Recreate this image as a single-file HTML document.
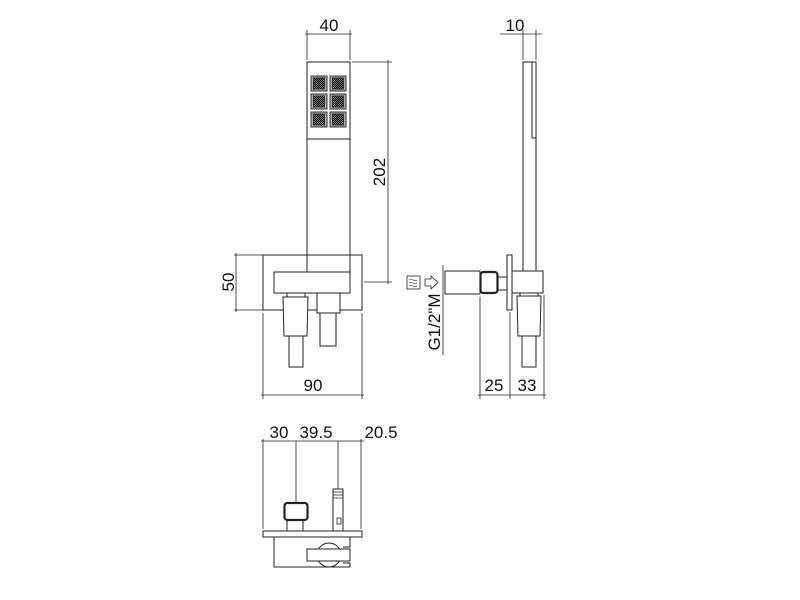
<!DOCTYPE html>
<html><head><meta charset="utf-8"><style>html,body{margin:0;padding:0;background:#fff}svg{display:block}</style></head>
<body>
<svg width="800" height="600" viewBox="0 0 800 600" xmlns="http://www.w3.org/2000/svg" font-family="Liberation Sans, sans-serif" font-size="17" fill="none" stroke="#222" stroke-width="1">
<defs>
<pattern id="dots" width="2" height="2" patternUnits="userSpaceOnUse"><rect width="2" height="2" fill="#777" stroke="none"/><rect width="1" height="1" fill="#000" stroke="none"/><rect x="1" y="1" width="1" height="1" fill="#000" stroke="none"/></pattern>
</defs>
<!-- FRONT VIEW -->
<rect x="307" y="62" width="43" height="210"/>
<line x1="307" y1="139" x2="350" y2="139"/>
<g stroke="#333">
<g id="t"><rect x="311" y="76" width="16" height="15" fill="#aaa"/><rect x="313.5" y="78" width="11" height="11" fill="url(#dots)"/></g>
<use href="#t" x="19"/><use href="#t" y="18"/><use href="#t" x="19" y="18"/><use href="#t" y="36"/><use href="#t" x="19" y="36"/>
</g>
<rect x="263" y="255" width="99" height="55"/>
<rect x="274" y="272" width="76" height="21" fill="#fff"/>
<rect x="287" y="293" width="18" height="4" fill="#fff"/>
<polygon points="283,297 308,297 307,336 284,336" fill="#fff"/>
<rect x="289" y="336" width="14" height="31" fill="#fff"/>
<rect x="317" y="293" width="23" height="20" fill="#fff"/>
<rect x="320" y="313" width="16" height="33" fill="#fff"/>
<g stroke-width="0.8">
<line x1="307" y1="60" x2="307" y2="30"/><line x1="350" y1="60" x2="350" y2="30"/><line x1="305" y1="34" x2="352" y2="34"/>
<line x1="352" y1="62" x2="392" y2="62"/><line x1="364" y1="282" x2="392" y2="282"/><line x1="388" y1="60" x2="388" y2="284"/>
<line x1="234" y1="255" x2="263" y2="255"/><line x1="234" y1="310" x2="263" y2="310"/><line x1="236" y1="253" x2="236" y2="312"/>
<line x1="263" y1="313" x2="263" y2="399"/><line x1="362" y1="313" x2="362" y2="399"/><line x1="261" y1="395" x2="364" y2="395"/>
</g>
<g fill="#111" stroke="none">
<text x="329" y="31" text-anchor="middle">40</text>
<text transform="translate(385,172) rotate(-90)" text-anchor="middle">202</text>
<text transform="translate(234,282) rotate(-90)" text-anchor="middle">50</text>
<text x="313" y="391" text-anchor="middle">90</text>
</g>
<!-- SIDE VIEW -->
<rect x="523" y="62" width="13" height="209"/>
<polyline points="532,62 532,138 536,138"/>
<rect x="510" y="271" width="33" height="22" fill="#fff"/>
<rect x="507" y="255" width="5" height="55" fill="#fff"/>
<rect x="445" y="271" width="35" height="23"/>
<rect x="480.5" y="272" width="17" height="21" rx="3" stroke-width="2.2"/>
<rect x="497" y="277" width="10" height="13"/>
<polygon points="517,296 541,296 540,336 518,336" fill="#fff"/>
<line x1="520" y1="293" x2="520" y2="296"/><line x1="538" y1="293" x2="538" y2="296"/>
<rect x="522" y="336" width="14" height="31"/>
<g stroke-width="0.8">
<line x1="523" y1="60" x2="523" y2="30"/><line x1="536" y1="60" x2="536" y2="30"/><line x1="500" y1="34" x2="542" y2="34"/>
<line x1="443" y1="265" x2="443" y2="355"/>
<line x1="480" y1="297" x2="480" y2="399"/><line x1="510" y1="312" x2="510" y2="399"/><line x1="544" y1="295" x2="544" y2="399"/><line x1="478" y1="395" x2="546" y2="395"/>
</g>
<rect x="407" y="276" width="13" height="13" stroke-width="0.8"/>
<path d="M409 280q2-1.5 4 0t4 0M409 283q2-1.5 4 0t4 0M409 286q2-1.5 4 0t4 0" stroke-width="0.6"/>
<polygon points="425,279 431,279 431,276 438,282.5 431,289 431,286 425,286" stroke-width="0.8"/>
<g fill="#111" stroke="none">
<text x="515" y="31" text-anchor="middle">10</text>
<text transform="translate(440,322) rotate(-90)" text-anchor="middle">G1/2"M</text>
<text x="494" y="391" text-anchor="middle">25</text>
<text x="527" y="391" text-anchor="middle">33</text>
</g>
<!-- BOTTOM VIEW -->
<g stroke-width="0.8">
<line x1="261" y1="441" x2="364" y2="441"/>
<line x1="263" y1="439" x2="263" y2="529"/><line x1="296" y1="441" x2="296" y2="503"/><line x1="338" y1="441" x2="338" y2="489"/><line x1="361" y1="439" x2="361" y2="529"/>
</g>
<g fill="#111" stroke="none">
<text x="279" y="438" text-anchor="middle">30</text>
<text x="316" y="438" text-anchor="middle">39.5</text>
<text x="381" y="438" text-anchor="middle">20.5</text>
</g>
<rect x="263" y="531" width="99" height="6"/>
<polyline points="274,537 274,567 350,567 350,563 343,563"/>
<polyline points="350,537 350,547 343,547"/>
<circle cx="329" cy="555" r="12"/>
<rect x="307" y="549" width="43" height="12" fill="#fff"/>
<rect x="287" y="520" width="16" height="11"/>
<rect x="284.5" y="503" width="23" height="17" rx="3" stroke-width="2.2" fill="#fff"/>
<rect x="333" y="489" width="10" height="42"/>
<path d="M333 492h10M333 495h10M333 498h10" stroke-width="0.8"/>
<rect x="337" y="518" width="4" height="6" stroke-width="0.8"/>
</svg>
</body></html>
